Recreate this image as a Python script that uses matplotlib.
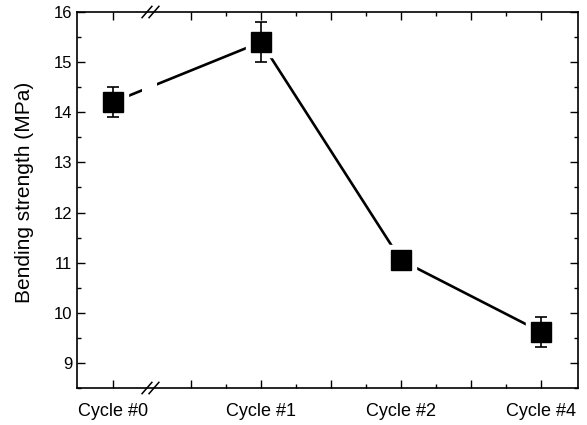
import matplotlib
matplotlib.use("Agg")
import matplotlib.pyplot as plt
import numpy as np
from matplotlib.ticker import FixedLocator, MultipleLocator

plt.rcParams['font.family'] = ['Liberation Sans', 'DejaVu Sans']

categories = ["Cycle #0", "Cycle #1", "Cycle #2", "Cycle #4"]
strength = [14.2, 15.4, 11.05, 9.62]
err = [0.3, 0.4, 0.1, 0.3]

# layout: broken axis, first category placed left of the break
cat_pos = np.array([-0.06, 1.0, 2.0, 3.0])
break_x = 0.21

fig = plt.figure(figsize=(5.87, 4.25), dpi=100)
ax = fig.add_axes([77/587, 1 - 388/425, (578-77)/587, (388-12)/425])

ax.set_xlim(-0.315, 3.265)
ax.set_ylim(8.5, 16)

# connecting line
ax.plot(cat_pos, strength, color='black', lw=1.9, zorder=1)
# gap at the axis break
ax.axvspan(break_x - 0.06, break_x + 0.05, color='white', zorder=1.5, lw=0)
# white halo round markers
ax.plot(cat_pos, strength, ls='none', marker='s', ms=22, mfc='white', mec='white', zorder=2)
ax.errorbar(cat_pos, strength, yerr=err, fmt='none', ecolor='black', elinewidth=1.2,
            capsize=4, capthick=1.2, zorder=3)
ax.plot(cat_pos, strength, ls='none', marker='s', ms=15, mfc='black', mec='black', zorder=4)

ax.set_ylabel("Bending strength (MPa)", fontsize=15)
ax.yaxis.set_label_coords(-0.086, 0.52)
ax.yaxis.set_major_locator(FixedLocator(range(9, 17)))
ax.yaxis.set_minor_locator(MultipleLocator(0.5))

major_x = [cat_pos[0], 0.5, 1.0, 1.5, 2.0, 2.5, 3.0]
labels = [categories[0], "", categories[1], "", categories[2], "", categories[3]]
ax.xaxis.set_major_locator(FixedLocator(major_x))
ax.set_xticklabels(labels)
ax.xaxis.set_minor_locator(FixedLocator([0.75, 1.25, 1.75, 2.25, 2.75]))

ax.tick_params(which='both', direction='in', top=True, right=True, width=1)
ax.tick_params(axis='y', labelsize=12)
ax.tick_params(axis='x', labelsize=13, pad=11)
ax.tick_params(which='major', length=6)
ax.tick_params(which='minor', length=3)
for s in ax.spines.values():
    s.set_linewidth(1.2)

# break marks on top and bottom spines
for yb in (0.0, 1.0):
    for dx in (-0.025, 0.025):
        ax.plot([break_x + dx - 0.035, break_x + dx + 0.035], [yb - 0.015, yb + 0.015],
                transform=ax.get_xaxis_transform(), color='black', lw=1.1,
                clip_on=False, zorder=5)

fig.savefig("out.png", dpi=100)
